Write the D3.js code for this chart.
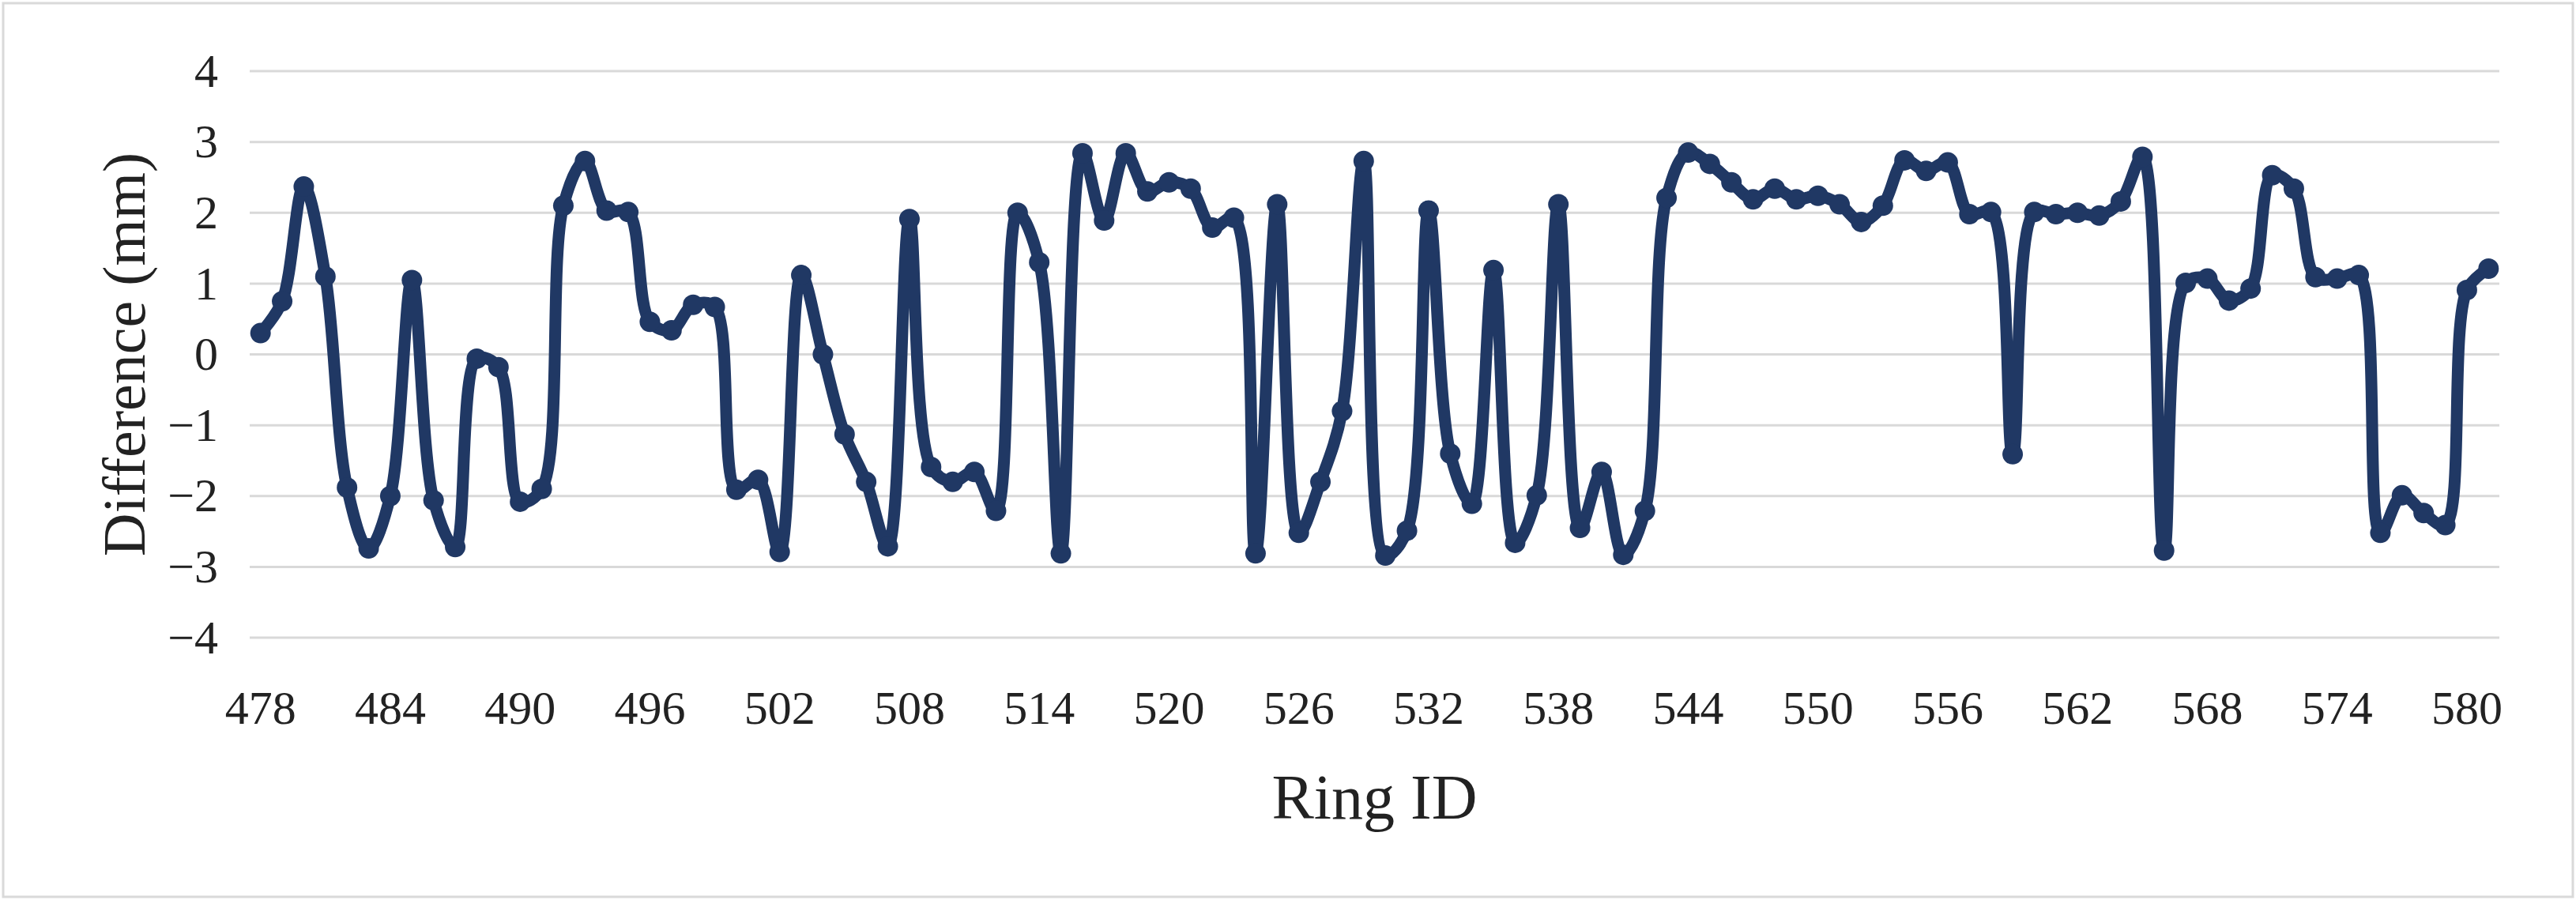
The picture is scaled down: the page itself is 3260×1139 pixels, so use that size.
<!DOCTYPE html>
<html>
<head>
<meta charset="utf-8">
<script src="https://cdn.jsdelivr.net/npm/d3@7"></script>
<style>
  body { margin: 0; background: #fff; }
  text { font-family: "Liberation Serif", "DejaVu Serif", serif; fill: #222; }
</style>
</head>
<body>
<div id="chart"></div>
<script>
var svgWidth = 3260;
var svgHeight = 1139;

var margin = { top: 90, right: 97, bottom: 332, left: 316 };
var width = svgWidth - margin.left - margin.right;
var height = svgHeight - margin.top - margin.bottom;

// ring ids 478..581
var ringIds = d3.range(478, 582);
var differences = [
  0.3, 0.75, 2.37, 1.1, -1.88, -2.74, -2.0, 1.05, -2.06, -2.72,
  -0.06, -0.18, -2.08, -1.9, 2.1, 2.73, 2.03, 2.01, 0.46, 0.34,
  0.7, 0.67, -1.91, -1.77, -2.79, 1.12, 0.0, -1.13, -1.8, -2.71,
  1.91, -1.59, -1.8, -1.66, -2.21, 2.0, 1.3, -2.81, 2.84, 1.89,
  2.84, 2.3, 2.43, 2.34, 1.79, 1.93, -2.81, 2.12, -2.52, -1.8,
  -0.8, 2.73, -2.84, -2.49, 2.03, -1.4, -2.11, 1.19, -2.66, -1.99,
  2.12, -2.45, -1.66, -2.83, -2.21, 2.21, 2.85, 2.69, 2.43, 2.19,
  2.34, 2.19, 2.24, 2.12, 1.87, 2.1, 2.74, 2.59, 2.71, 1.98,
  2.01, -1.41, 2.01, 1.98, 2.0, 1.96, 2.16, 2.79, -2.77, 1.01,
  1.07, 0.76, 0.93, 2.53, 2.34, 1.09, 1.07, 1.12, -2.52, -1.99,
  -2.24, -2.41, 0.91, 1.21
];
var xTickLabels = d3.range(478, 582, 6);
var yTicks = [-4, -3, -2, -1, 0, 1, 2, 3, 4];

var data = ringIds.map(function(id, i) { return { id: id, value: differences[i] }; });

var svg = d3.select("#chart")
  .append("svg")
  .attr("width", svgWidth)
  .attr("height", svgHeight);

// outer frame
svg.append("rect")
  .attr("x", 4).attr("y", 4)
  .attr("width", svgWidth - 8).attr("height", svgHeight - 8)
  .attr("fill", "none")
  .attr("stroke", "#d9d9d9")
  .attr("stroke-width", 3);

var chartGroup = svg.append("g")
  .attr("transform", `translate(${margin.left}, ${margin.top})`);

var xScale = d3.scaleBand()
  .domain(ringIds)
  .range([0, width]);

var yScale = d3.scaleLinear()
  .domain([-4, 4])
  .range([height, 0]);

// gridlines
chartGroup.append("g")
  .selectAll("line")
  .data(yTicks)
  .enter()
  .append("line")
  .attr("x1", 0)
  .attr("x2", width)
  .attr("y1", d => yScale(d))
  .attr("y2", d => yScale(d))
  .attr("stroke", "#d9d9d9")
  .attr("stroke-width", 3);

// y axis labels
var leftAxis = d3.axisLeft(yScale)
  .tickValues(yTicks)
  .tickSize(0)
  .tickPadding(40)
  .tickFormat(d => d < 0 ? "\u2212" + Math.abs(d) : d);

chartGroup.append("g")
  .call(leftAxis)
  .call(g => g.select(".domain").remove())
  .selectAll("text")
  .attr("font-size", "60px")
  .attr("font-family", "Liberation Serif, serif")
  .attr("fill", "#222");

// x axis labels
var bottomAxis = d3.axisBottom(xScale)
  .tickValues(xTickLabels)
  .tickSize(0)
  .tickPadding(66);

chartGroup.append("g")
  .attr("transform", `translate(0, ${height})`)
  .call(bottomAxis)
  .call(g => g.select(".domain").remove())
  .selectAll("text")
  .attr("font-size", "60px")
  .attr("font-family", "Liberation Serif, serif")
  .attr("fill", "#222");

var xPos = d => xScale(d.id) + xScale.bandwidth() / 2;

var line = d3.line()
  .x(xPos)
  .y(d => yScale(d.value))
  .curve(d3.curveCatmullRom.alpha(0.5));

chartGroup.append("path")
  .datum(data)
  .attr("fill", "none")
  .attr("stroke", "#203864")
  .attr("stroke-width", 15)
  .attr("stroke-linejoin", "round")
  .attr("d", line);

chartGroup.selectAll("circle")
  .data(data)
  .enter()
  .append("circle")
  .attr("cx", xPos)
  .attr("cy", d => yScale(d.value))
  .attr("r", 13)
  .attr("fill", "#203864");

// axis titles
chartGroup.append("text")
  .attr("transform", `translate(${156 - margin.left}, ${height / 2}) rotate(-90)`)
  .attr("text-anchor", "middle")
  .attr("dy", "0.35em")
  .attr("font-size", "76px")
  .text("Difference (mm)");

chartGroup.append("text")
  .attr("x", width / 2)
  .attr("y", 946)
  .attr("text-anchor", "middle")
  .attr("font-size", "80px")
  .text("Ring ID");
</script>
</body>
</html>
